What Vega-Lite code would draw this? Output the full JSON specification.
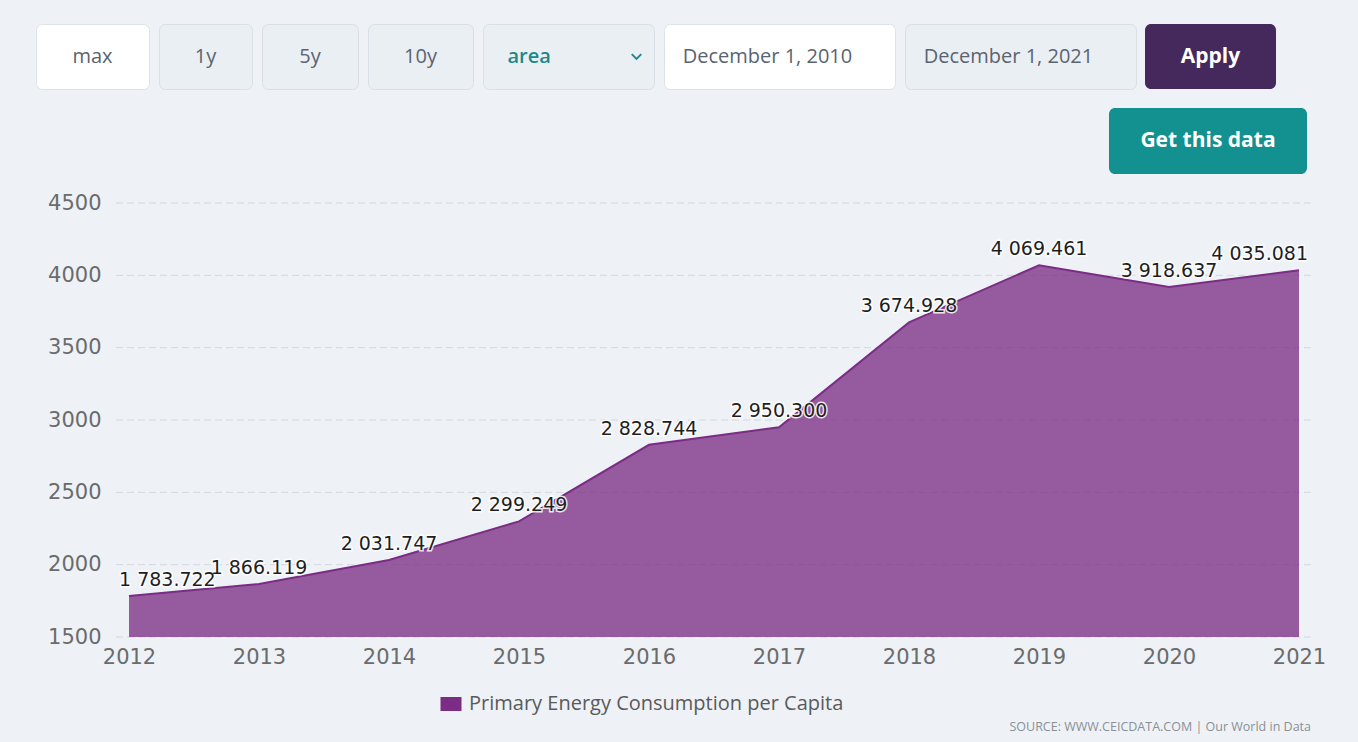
{
  "$schema": "https://vega.github.io/schema/vega-lite/v6.json",
  "background": "#eef2f6",
  "padding": {"left": 35, "top": 23, "right": 34, "bottom": 10},
  "config": {
    "locale": {"number": {"decimal": ".", "thousands": " ", "grouping": [3], "currency": ["", ""]}},
    "view": {"stroke": null},
    "font": "Open Sans"
  },
  "spacing": 18,
  "vconcat": [
    {
      "spacing": 8,
      "hconcat": [
        {"width": 113, "height": 65, "view": {"fill": "#ffffff", "stroke": "#dce2e9", "cornerRadius": 6},
         "data": {"values": [{"label": "max"}]},
         "mark": {"type": "text", "fontSize": 20, "color": "#5a6470"},
         "encoding": {"text": {"field": "label"}}},
        {"width": 93, "height": 65, "view": {"fill": "#eaeff4", "stroke": "#d9dfe6", "cornerRadius": 6},
         "data": {"values": [{"label": "1y"}]},
         "mark": {"type": "text", "fontSize": 20, "color": "#5a6470"},
         "encoding": {"text": {"field": "label"}}},
        {"width": 96, "height": 65, "view": {"fill": "#eaeff4", "stroke": "#d9dfe6", "cornerRadius": 6},
         "data": {"values": [{"label": "5y"}]},
         "mark": {"type": "text", "fontSize": 20, "color": "#5a6470"},
         "encoding": {"text": {"field": "label"}}},
        {"width": 105, "height": 65, "view": {"fill": "#eaeff4", "stroke": "#d9dfe6", "cornerRadius": 6},
         "data": {"values": [{"label": "10y"}]},
         "mark": {"type": "text", "fontSize": 20, "color": "#5a6470"},
         "encoding": {"text": {"field": "label"}}},
        {"width": 171, "height": 65, "view": {"fill": "#eaeff4", "stroke": "#d9dfe6", "cornerRadius": 6},
         "data": {"values": [{"label": "area"}]},
         "layer": [
           {"mark": {"type": "text", "fontSize": 20, "fontWeight": 600, "color": "#1a8a8a", "align": "left", "dx": -61},
            "encoding": {"text": {"field": "label"}}},
           {"mark": {"type": "point", "shape": "M-1,-0.5L0,0.5L1,-0.5", "filled": false, "stroke": "#1a8a8a", "strokeWidth": 2, "size": 90, "xOffset": 68, "opacity": 1},
            "encoding": {}}
         ]},
        {"width": 231, "height": 65, "view": {"fill": "#ffffff", "stroke": "#dce2e9", "cornerRadius": 6},
         "data": {"values": [{"label": "December 1, 2010"}]},
         "mark": {"type": "text", "fontSize": 20, "color": "#5a6470", "dx": -12},
         "encoding": {"text": {"field": "label"}}},
        {"width": 231, "height": 65, "view": {"fill": "#eaeff4", "stroke": "#d9dfe6", "cornerRadius": 6},
         "data": {"values": [{"label": "December 1, 2021"}]},
         "mark": {"type": "text", "fontSize": 20, "color": "#5a6470", "dx": -12},
         "encoding": {"text": {"field": "label"}}},
        {"width": 131, "height": 65, "view": {"fill": "#45285c", "stroke": null, "cornerRadius": 6},
         "data": {"values": [{"label": "Apply"}]},
         "mark": {"type": "text", "fontSize": 21, "fontWeight": "bold", "color": "#ffffff"},
         "encoding": {"text": {"field": "label"}}}
      ]
    },
    {
      "spacing": 8,
      "hconcat": [
        {"width": 1065, "height": 66,
         "data": {"values": [{"label": ""}]},
         "mark": {"type": "text"},
         "encoding": {"text": {"field": "label"}}},
        {"width": 198, "height": 66, "view": {"fill": "#139090", "stroke": null, "cornerRadius": 6},
         "data": {"values": [{"label": "Get this data"}]},
         "mark": {"type": "text", "fontSize": 21, "fontWeight": "bold", "color": "#ffffff"},
         "encoding": {"text": {"field": "label"}}}
      ]
    },
    {
      "width": 1275,
      "height": 434,
      "title": {"text": "SOURCE: WWW.CEICDATA.COM | Our World in Data", "orient": "bottom", "anchor": "end", "frame": "group", "fontSize": 12.5, "fontWeight": "normal", "color": "#8a9096", "font": "Open Sans", "offset": 54},
      "layer": [
        {
          "data": {"values": [{"tick": 1500}, {"tick": 2000}, {"tick": 2500}, {"tick": 3000}, {"tick": 3500}, {"tick": 4000}, {"tick": 4500}]},
          "mark": {"type": "rule", "strokeDash": [7, 4], "stroke": "#d3d8de", "strokeWidth": 1},
          "encoding": {
            "y": {"field": "tick", "type": "quantitative",
                  "scale": {"domain": [1500, 4500], "nice": false, "zero": false},
                  "axis": {"title": null, "offset": -80,
                           "values": [1500, 2000, 2500, 3000, 3500, 4000, 4500], "format": "d",
                           "domain": false, "ticks": false, "grid": false,
                           "labelFont": "DejaVu Sans", "labelFontSize": 21, "labelColor": "#6b6b6b", "labelPadding": 15}},
            "x": {"datum": 2011.9, "type": "quantitative",
                  "scale": {"domain": [2011.2846, 2021.0923], "nice": false, "zero": false},
                  "axis": {"title": null, "values": [2012, 2013, 2014, 2015, 2016, 2017, 2018, 2019, 2020, 2021], "format": "d",
                           "grid": false, "domain": false, "ticks": false, "labelFlush": false,
                           "labelFont": "DejaVu Sans", "labelFontSize": 21, "labelColor": "#6b6b6b", "labelPadding": 9}},
            "x2": {"datum": 2021.1}
          }
        },
        {
          "data": {"values": [
            {"year": 2012, "value": 1783.722},
            {"year": 2013, "value": 1866.119},
            {"year": 2014, "value": 2031.747},
            {"year": 2015, "value": 2299.249},
            {"year": 2016, "value": 2828.744},
            {"year": 2017, "value": 2950.300},
            {"year": 2018, "value": 3674.928},
            {"year": 2019, "value": 4069.461},
            {"year": 2020, "value": 3918.637},
            {"year": 2021, "value": 4035.081}
          ]},
          "encoding": {
            "x": {"field": "year", "type": "quantitative"},
            "y": {"field": "value", "type": "quantitative"}
          },
          "layer": [
            {
              "mark": {"type": "area", "fillOpacity": 0.77, "line": {"color": "#74287d", "strokeWidth": 2}},
              "encoding": {
                "y2": {"datum": 1500},
                "color": {"datum": "Primary Energy Consumption per Capita", "type": "nominal",
                          "scale": {"range": ["#7b2c84"]},
                          "legend": {"title": null, "orient": "none", "legendX": 405, "legendY": 670, "direction": "horizontal",
                                     "symbolType": "M-1.5,-1H1.5V1H-1.5Z", "symbolSize": 196, "symbolOpacity": 1, "symbolFillColor": "#7b2c84", "symbolStrokeWidth": 0,
                                     "labelFont": "Open Sans", "labelFontSize": 20, "labelColor": "#5a5a5a", "labelOffset": 8, "labelLimit": 0}}
              }
            },
            {
              "mark": {"type": "text", "font": "DejaVu Sans", "fontSize": 19, "baseline": "alphabetic", "dy": -10,
                       "fill": "#ffffff", "stroke": "#ffffff", "strokeWidth": 3, "strokeOpacity": 0.85,
                       "align": {"expr": "datum.year == 2012 ? 'left' : datum.year == 2021 ? 'right' : 'center'"},
                       "dx": {"expr": "datum.year == 2012 ? -10 : datum.year == 2021 ? 9 : 0"}},
              "encoding": {"text": {"field": "value", "type": "quantitative", "format": ",.3f"}}
            },
            {
              "mark": {"type": "text", "font": "DejaVu Sans", "fontSize": 19, "baseline": "alphabetic", "dy": -10,
                       "fill": "#1e1e1e",
                       "align": {"expr": "datum.year == 2012 ? 'left' : datum.year == 2021 ? 'right' : 'center'"},
                       "dx": {"expr": "datum.year == 2012 ? -10 : datum.year == 2021 ? 9 : 0"}},
              "encoding": {"text": {"field": "value", "type": "quantitative", "format": ",.3f"}}
            }
          ]
        }
      ]
    }
  ]
}
